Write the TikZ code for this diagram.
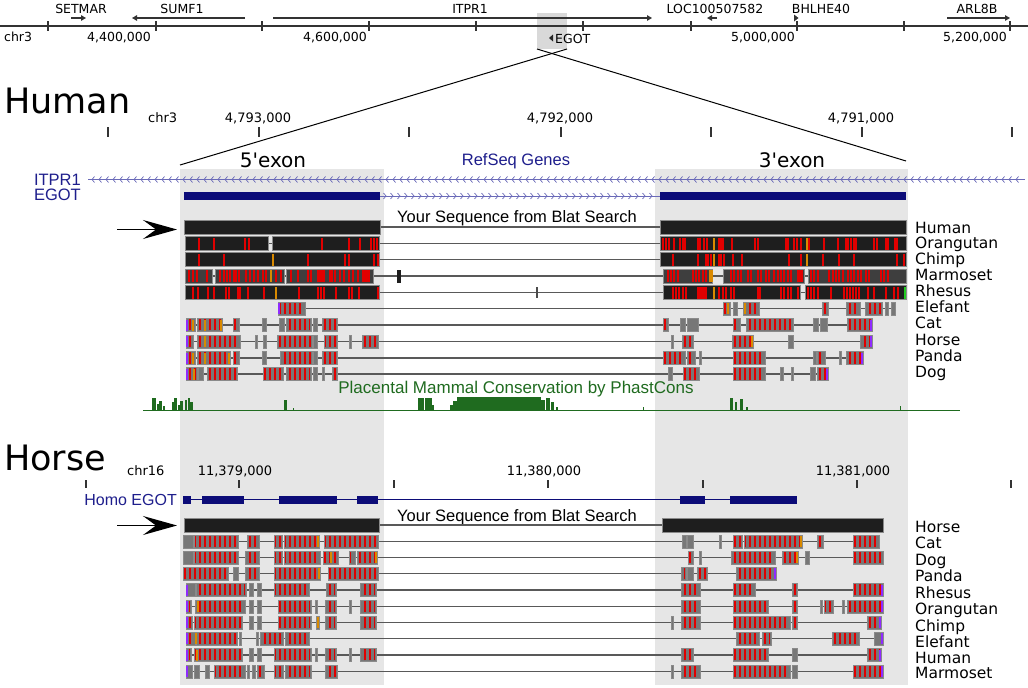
\documentclass[tikz,border=0pt]{standalone}
\usepackage{fontspec}
\setmainfont{DejaVu Sans}
\newfontfamily\ucscfont{Liberation Sans}
\usetikzlibrary{arrows.meta,patterns.meta}

\definecolor{cBlk}{HTML}{1E1E1E}
\definecolor{cEdge}{HTML}{8A8A8A}
\definecolor{cGray}{HTML}{777777}
\definecolor{cDark}{HTML}{3E3E3E}
\definecolor{cRed}{HTML}{E10000}
\definecolor{cOrange}{HTML}{D98A00}
\definecolor{cPurple}{HTML}{8F2BFF}
\definecolor{cShade}{HTML}{E6E6E6}
\definecolor{cBox}{HTML}{D9D9D9}
\definecolor{cNavy}{HTML}{0C0C78}
\definecolor{cRefBlue}{HTML}{1E1E8C}
\definecolor{cChev}{HTML}{6A6AB8}
\definecolor{cGreen}{HTML}{1F6B1F}
\definecolor{cLime}{HTML}{22CC22}

\newcommand\rulerfont{\fontsize{12.5}{14}\selectfont}
\newcommand\posfont{\fontsize{13}{15}\selectfont}
\newcommand\bigfont{\fontsize{35}{40}\selectfont}
\newcommand\specfont{\fontsize{15.5}{17}\selectfont}
\newcommand\exonfont{\fontsize{20}{22}\selectfont}
\newcommand\trackfont{\ucscfont\fontsize{16.5}{18}\selectfont}

% gray alignment row: top, line from, line to, blocks x1/x2/red
\newcommand\rowgray[4]{%
  \draw[alnline] (#2,#1+6.5) -- (#3,#1+6.5);
  \foreach \a/\b/\r in {#4}{%
    \draw[gblock] (\a,#1) rectangle (\b,#1+13);
    \ifnum\r=1 \fill[redbars] (\a+1.2,#1+1.2) rectangle (\b-1.2,#1+11.8);\fi
  }}
% coloured ticks: top, height, colour, x list
\newcommand\rowmarks[4]{%
  \foreach \x in {#4} \fill[#3] (\x,#1+1) rectangle +(2,#2-2);}

\begin{document}
\begin{tikzpicture}[x=1pt,y=-1pt,
    ruler/.style={draw=black!80,line width=1.1pt},
    gline/.style={draw=black!80,line width=1.2pt},
    gtip/.style={-{Triangle[length=5pt,width=5.5pt]}},
    bblock/.style={fill=cBlk,draw=cEdge,line width=0.9pt},
    dblock/.style={fill=cDark,draw=cEdge,line width=0.9pt},
    gblock/.style={fill=cGray,draw=cEdge,line width=0.9pt},
    alnline/.style={draw=black!65,line width=1.2pt},
    redbars/.style={pattern={Lines[angle=90,distance=5pt,line width=2.8pt]},pattern color=cRed},
    chev/.style={draw=cChev,line width=0.7pt},
    bigarrow/.style={line width=1.6pt,-{Stealth[length=34pt,width=19pt,inset=13pt]}},
    lbl/.style={inner sep=0pt,anchor=base},
    spc/.style={inner sep=0pt,anchor=base west,font=\specfont},
  ]
\useasboundingbox (0,0) rectangle (1028,688);

% shaded exons
\fill[cShade] (180,169) rectangle (384,685);
\fill[cShade] (655,169) rectangle (908,685);

% chromosome overview
\fill[cBox] (537,13) rectangle (567,49);
\draw[ruler] (0,26) -- (1028,26);
\foreach \x in {48,156,262,369,476,583,691,797,904,1010}
  \draw[ruler] (\x,21) -- (\x,31);
\node[lbl,anchor=base west,font=\rulerfont] (chrtop) at (4,41) {chr3};
\node[lbl,font=\rulerfont] (top44) at (119,41) {4,400,000};
\node[lbl,font=\rulerfont] (top46) at (335,41) {4,600,000};
\node[lbl,font=\rulerfont] (top50) at (763,41) {5,000,000};
\node[lbl,font=\rulerfont] (top52) at (975,41) {5,200,000};

\draw[gline,gtip] (71,18) -- (86,18);
\node[lbl,font=\rulerfont] (setmar) at (81,13) {SETMAR};
\draw[gline,gtip] (245,18) -- (132,18);
\node[lbl,font=\rulerfont] (sumf) at (182,13) {SUMF1};
\draw[gline,gtip] (273,18) -- (652,18);
\node[lbl,font=\rulerfont] (itprtop) at (470,13) {ITPR1};
\draw[gline,gtip] (717,18) -- (707,18);
\node[lbl,font=\rulerfont] (loc) at (715,13) {LOC100507582};
\fill[black!80] (794,14.5) -- (798.5,18) -- (794,21.5) -- cycle;
\node[lbl,font=\rulerfont] (bhlhe) at (821,13) {BHLHE40};
\draw[gline,gtip] (947,18) -- (1010,18);
\node[lbl,font=\rulerfont] (arl) at (977,13) {ARL8B};
\fill[black!85] (553,34.5) -- (549,38) -- (553,41.5) -- cycle;
\node[lbl,anchor=base west,font=\rulerfont] (egottop) at (555,43) {EGOT};

% zoom into EGOT
\coordinate (boxL) at (537,49);
\coordinate (boxR) at (567,49);
\coordinate (exL) at (180,165);
\coordinate (exR) at (906,161);
\draw[line width=1pt] (boxR) -- (exL);
\draw[line width=1pt] (boxL) -- (exR);

% ---- Human ----
\node[lbl,anchor=base west,font=\bigfont] (human) at (4,113) {Human};
\node[lbl,anchor=base west,font=\posfont] (chrhum) at (148,122) {chr3};
\foreach \x in {108,259,409,561,711,862,1012}
  \draw[ruler] (\x,127) -- (\x,137);
\foreach \x/\t in {258/{4,793,000},560/{4,792,000},861/{4,791,000}}
  \node[lbl,font=\posfont] (hpos\x) at (\x,122) {\t};

\node[lbl,font=\exonfont] (exon5) at (273,167) {5\textquotesingle exon};
\node[lbl,font=\exonfont] (exon3) at (792,167) {3\textquotesingle exon};
\node[lbl,font=\trackfont,text=cRefBlue] (refseq) at (516,165) {RefSeq Genes};

\draw[chev] (88,179.5) -- (1025,179.5);
\foreach \x in {92,99,...,1020}
  \draw[chev] (\x+2.5,176.5) -- (\x,179.5) -- (\x+2.5,182.5);
\node[lbl,anchor=base east,font=\trackfont,text=cRefBlue] (itpr) at (81,185) {ITPR1};
\draw[chev] (380,196) -- (660,196);
\foreach \x in {386,393,...,656}
  \draw[chev] (\x-2.5,193) -- (\x,196) -- (\x-2.5,199);
\fill[cNavy] (184,192) rectangle (380,200);
\fill[cNavy] (660,192) rectangle (906,200);
\node[lbl,anchor=base east,font=\trackfont,text=cRefBlue] (egot) at (81,200) {EGOT};

\node[lbl,font=\trackfont] (blathum) at (517,222) {Your Sequence from Blat Search};
\coordinate (arrH) at (117,229.5);
\coordinate (rowH) at (177,229.5);
\draw[bigarrow] (arrH) -- (rowH);

% Human
\draw[alnline] (380,227) -- (660,227);
\draw[bblock] (184,220) rectangle (380,234);
\draw[bblock] (660,220) rectangle (906,234);
% Orangutan
\draw[alnline] (185,243.5) -- (906,243.5);
\draw[bblock] (185,236.5) rectangle (268,250.5);
\draw[bblock] (272,236.5) rectangle (379,250.5);
\draw[bblock] (660,236.5) rectangle (906,250.5);
\rowmarks{236.5}{14}{cRed}{198,213,244,248,321,348,359,370,373,376}
\rowmarks{236.5}{14}{cRed}{662,665,668,673,679,682,684,697,699,703,706,718,720,722,731,754,757,785,787,793,796,800,808,823,837,845,847,850,853,855,873,876,885,887,894,896}
\rowmarks{236.5}{14}{cOrange}{713,806}
% Chimp
\draw[alnline] (185,259.5) -- (906,259.5);
\draw[bblock] (185,252.5) rectangle (379,266.5);
\draw[bblock] (660,252.5) rectangle (906,266.5);
\rowmarks{252.5}{14}{cRed}{198,223,307,344,348,373,377,672,697,705,707,710,718,720,723,732,741,788,800,822,838,853,896,903}
\rowmarks{252.5}{14}{cOrange}{272,713,806}
% Marmoset
\draw[alnline] (185,276) -- (906,276);
\foreach \a/\b in {185/212,215/284,286/373,663/712,723/804,808/906}
  \draw[dblock] (\a,269) rectangle (\b,283);
\fill[cBlk] (397,270) rectangle (401,283);
\rowmarks{269}{14}{cRed}{188,192,196,206,219,223,226,229,233,235,238,245,249,253,257,262,265,275,280,290,297,307,310,317,319,321,323,329,331,334,339,343,348,352,357,362,364,366,368}
\rowmarks{269}{14}{cRed}{667,670,673,677,692,695,698,702,705,730,733,737,740,747,750,757,760,765,768,773,777,780,783,787,790,797,799,801,810,813,817,828,832,835,838,842,847,850,853,857,860,865,868,880,883,887}
\rowmarks{269}{14}{cOrange}{270,709,711}
% Rhesus
\draw[alnline] (185,292.5) -- (906,292.5);
\draw[bblock] (185,285.5) rectangle (379,299.5);
\draw[bblock] (663,285.5) rectangle (800,299.5);
\draw[bblock] (805,285.5) rectangle (906,299.5);
\fill[cBlk!80] (536,287) rectangle (538,298);
\rowmarks{285.5}{14}{cRed}{192,197,207,213,225,228,237,239,247,263,298,317,320,323,335,348,351,358,377}
\rowmarks{285.5}{14}{cRed}{672,675,678,682,685,697,699,701,703,705,718,722,725,730,733,757,759,780,783,787,790,797,807,810,813,817,830,843,846,849,852,855,858,867,873,885,893,897}
\rowmarks{285.5}{14}{cOrange}{275,713}
\rowmarks{285.5}{14}{cLime}{904}
% Elefant
\rowgray{302}{278}{895}{278/305/1,723/730/1,733/737/0,743/759/1,822/828/1,846/860/1,865/882/1,885/888/0,891/895/0}
\rowmarks{302}{13}{cPurple}{278}
\rowmarks{302}{13}{cOrange}{727,744}
% Cat
\rowgray{318.5}{186}{872}{186/195/1,197/222/1,233/239/1,262/266/0,279/284/0,286/311/1,313/317/0,322/337/1,663/668/1,680/685/0,687/698/0,733/740/1,746/793/1,813/818/0,820/827/0,847/872/1}
\rowmarks{318.5}{13}{cPurple}{186,870}
\rowmarks{318.5}{13}{cOrange}{192,204,220}
% Horse
\rowgray{335}{186}{872}{186/193/1,197/240/1,255/257/0,263/266/0,277/312/1,313/317/0,324/337/1,349/351/0,362/378/1,671/673/0,682/693/1,732/753/1,788/793/0,860/872/1}
\rowmarks{335}{13}{cPurple}{186,870}
\rowmarks{335}{13}{cOrange}{204,751}
% Panda
\rowgray{351.5}{186}{863}{186/195/1,197/230/1,233/239/1,262/266/0,280/312/1,313/317/0,322/337/1,663/685/1,687/695/1,699/701/0,733/765/1,813/816/0,817/825/1,839/841/0,846/863/1}
\rowmarks{351.5}{13}{cPurple}{186,861}
\rowmarks{351.5}{13}{cOrange}{192,204,228}
% Dog
\rowgray{367.5}{186}{828}{186/197/1,198/203/0,207/237/1,263/283/1,286/311/1,313/317/0,322/324/0,332/337/1,668/672/0,683/699/1,733/765/1,780/783/0,791/793/0,810/815/0,817/828/1}
\rowmarks{367.5}{13}{cPurple}{186,826}
\rowmarks{367.5}{13}{cOrange}{193}

\foreach \n/\y in {Human/233,Orangutan/248,Chimp/264,Marmoset/280,Rhesus/296,Elefant/312,Cat/328,Horse/345,Panda/361,Dog/377}
  \node[spc] (h\n) at (915,\y) {\n};

% conservation
\node[lbl,font=\ucscfont\fontsize{17}{19}\selectfont,text=cGreen] (phast) at (516,393) {Placental Mammal Conservation by PhastCons};
\draw[cGreen,line width=1pt] (143,410) -- (960,410);
\foreach \a/\w/\h in {152/4/12,157/2/6,159/3/9,163/2/4,172/2/8,174/3/12,178/2/5,180/3/9,185/2/10,188/2/12,190/3/8,284/3/10,293/1/2,418/6/12,425/7/12,432/2/5,450/3/5,453/4/9,457/84/13,541/4/10,546/4/12,551/3/8,556/2/3,643/1/3,730/3/12,735/2/8,740/3/11,746/2/3,900/1/4}
  \fill[cGreen] (\a,410) rectangle +(\w,-\h);

% ---- Horse ----
\node[lbl,anchor=base west,font=\bigfont] (horse) at (4,470) {Horse};
\node[lbl,anchor=base west,font=\posfont] (chrhor) at (127,475) {chr16};
\foreach \x in {86,239,394,548,703,857,1011}
  \draw[ruler] (\x,480) -- (\x,488);
\foreach \x/\t in {235/{11,379,000},544/{11,380,000},853/{11,381,000}}
  \node[lbl,font=\posfont] (epos\x) at (\x,475) {\t};

\draw[cNavy,line width=1.3pt] (183,499.5) -- (797,499.5);
\foreach \a/\b in {183/191,202/244,279/337,357/378,680/705,730/797}
  \fill[cNavy] (\a,495.5) rectangle (\b,503.5);
\node[lbl,anchor=base east,font=\ucscfont\fontsize{16}{18}\selectfont,text=cRefBlue] (homo) at (177,505) {Homo EGOT};

\node[lbl,font=\trackfont] (blathor) at (517,521) {Your Sequence from Blat Search};
\coordinate (arrE) at (117,525.5);
\coordinate (rowE) at (177,525.5);
\draw[bigarrow] (arrE) -- (rowE);

% Horse
\draw[alnline] (379,525) -- (662,525);
\draw[bblock] (184,518.5) rectangle (379,532);
\draw[bblock] (662,518.5) rectangle (883,532);
% Cat
\rowgray{535}{183}{879}{183/193/0,194/238/1,247/259/1,274/282/1,284/319/1,324/378/1,682/686/0,687/693/0,719/721/0,733/742/1,744/802/1,817/823/1,853/879/1}
\rowmarks{535}{13}{cOrange}{317,800}
% Dog
\rowgray{551}{183}{883}{183/193/0,194/238/1,245/259/1,274/282/1,284/320/1,323/338/1,349/355/1,357/377/1,688/693/1,699/701/0,731/775/1,782/798/1,805/809/0,853/883/1}
\rowmarks{551}{13}{cOrange}{330,375,796}
% Panda
\rowgray{567}{183}{776}{183/228/1,233/238/0,245/259/1,274/320/1,328/378/1,681/686/1,687/693/0,697/707/1,736/776/1}
\rowmarks{567}{13}{cPurple}{774}
\rowmarks{567}{13}{cOrange}{318}
% Rhesus
\rowgray{583.5}{186}{883}{186/195/0,196/246/1,249/253/0,257/261/0,274/309/1,326/336/1,360/376/1,681/700/1,733/755/1,792/797/1,853/883/1}
\rowmarks{583.5}{13}{cPurple}{186,881}
% Orangutan
\rowgray{600}{186}{883}{186/191/1,195/245/1,249/253/0,257/261/0,278/311/1,315/317/0,325/336/1,349/351/0,360/376/1,681/700/1,733/768/1,792/797/1,820/822/0,824/833/1,842/844/0,847/883/1}
\rowmarks{600}{13}{cPurple}{186,881}
\rowmarks{600}{13}{cOrange}{197}
% Chimp
\rowgray{616}{186}{881}{186/192/1,194/242/1,249/253/0,257/261/0,278/311/1,316/319/0,325/336/1,360/376/1,671/673/0,681/700/1,733/790/1,792/797/1,867/881/1}
\rowmarks{616}{13}{cPurple}{186,879}
\rowmarks{616}{13}{cOrange}{317}
% Elefant
\rowgray{632}{186}{883}{186/195/1,196/237/1,239/241/0,256/258/0,260/283/1,285/309/1,736/759/1,762/771/1,832/859/1,874/883/0}
\rowmarks{632}{13}{cPurple}{186,881}
\rowmarks{632}{13}{cOrange}{195}
% Human
\rowgray{648.5}{186}{881}{186/191/1,194/242/1,249/253/0,257/261/0,274/311/1,315/317/0,325/336/1,349/351/0,360/376/1,681/693/1,733/768/1,792/797/0,867/881/1}
\rowmarks{648.5}{13}{cPurple}{186,879}
\rowmarks{648.5}{13}{cOrange}{196}
% Marmoset
\rowgray{665}{186}{883}{186/192/0,194/199/0,205/209/0,214/245/1,247/249/0,252/255/0,257/264/1,274/283/1,285/311/1,325/337/1,671/673/0,681/700/1,733/790/1,792/797/0,853/883/1}
\rowmarks{665}{13}{cPurple}{186,881}

\foreach \n/\y in {Horse/532,Cat/548,Dog/565,Panda/581,Rhesus/598,Orangutan/614,Chimp/631,Elefant/647,Human/663,Marmoset/678}
  \node[spc] (e\n) at (915,\y) {\n};
\end{tikzpicture}
\end{document}
